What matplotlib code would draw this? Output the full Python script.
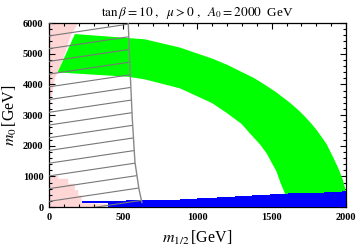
import numpy as np
import matplotlib
matplotlib.use("Agg")
import matplotlib.pyplot as plt
from matplotlib.patches import Polygon

# ----------------------------------------------------------------------
#  Data (m_1/2, m_0 in GeV)
# ----------------------------------------------------------------------

# green band: outer edge (top-left -> bottom-right) and inner edge
green_outer_x = [175, 400, 646, 882, 1100, 1200, 1300, 1380, 1450, 1530, 1623, 1680, 1720, 1760,
                 1803, 1870, 1912, 1950, 1980, 1995, 2000]
green_outer_y = [5642, 5560, 5470, 5201, 4840, 4640, 4400, 4210, 4000, 3745, 3400, 3160, 2970, 2760,
                 2511, 2050, 1641, 1250, 880, 600, 350]
green_inner_x = [58, 532, 646, 882, 1098, 1200, 1298, 1353, 1420, 1466, 1533, 1560, 1589, 1595]
green_inner_y = [4392, 4249, 4164, 3871, 3391, 3060, 2707, 2403, 2050, 1751, 1151, 780, 447, 300]

# pink region, upper left corner
pink_top_x = [0, 197, 148, 108, 74, 40, 18, 7, 0]
pink_top_y = [6000, 6000, 5608, 5011, 4575, 4196, 3597, 3163, 3000]

# pink region, lower left corner (blocky)
pink_low_x = [0, 0, 63, 63, 130, 130, 175, 175, 197, 197, 220, 220, 390, 390]
pink_low_y = [0, 1011, 1011, 923, 923, 760, 760, 554, 554, 381, 381, 130, 100, 0]

# blue strip along the bottom (steps)
blue_x = [220, 400, 520, 640, 760, 880, 1000, 1130, 1250, 1370, 1490, 1610, 1730, 1850, 1970, 2000]
blue_top = [196, 200, 215, 230, 245, 261, 290, 320, 365, 390, 420, 445, 460, 480, 530, 530]
blue_bot = [130, 0, 0, 0, 0, 0, 0, 0, 0, 0, 0, 0, 0, 0, 0, 0]

# hatched region: right boundary and hatch lines (m_0 at m_1/2 = 0 and 700)
hatch_edge_x = [534, 546, 561, 579, 606, 626]
hatch_edge_y = [6000, 4500, 2900, 1470, 590, 150]
hatch_x_ends = [0, 700]
hatch_y_left = [-230, 186, 600, 1015, 1430, 1845, 2260, 2675, 3090, 3505, 3920, 4335, 4750, 5165, 5580, 5995]
hatch_y_right = [274, 690, 1104, 1519, 1934, 2349, 2764, 3179, 3594, 4009, 4424, 4839, 5254, 5669, 6084, 6499]

# ----------------------------------------------------------------------
#  Plot
# ----------------------------------------------------------------------
plt.rcParams['font.family'] = ['Liberation Serif', 'DejaVu Serif']
plt.rcParams['mathtext.fontset'] = 'stix'

fig = plt.figure(figsize=(3.6, 2.48), dpi=100)
ax = fig.add_axes([0.136, 0.165, 0.825, 0.742])

pink = '#ffd6d6'
ax.add_patch(Polygon(list(zip(pink_top_x, pink_top_y)), closed=True, fc=pink, ec='none', zorder=1))
ax.add_patch(Polygon(list(zip(pink_low_x, pink_low_y)), closed=True, fc=pink, ec='none', zorder=1))

gx = green_outer_x + green_inner_x[::-1]
gy = green_outer_y + green_inner_y[::-1]
ax.add_patch(Polygon(list(zip(gx, gy)), closed=True, fc='#00ff00', ec='none', zorder=2))

ax.fill_between(blue_x, blue_bot, blue_top, step='post', color='#0000ff', lw=0, zorder=3)

# hatched region
hx = [0] + hatch_edge_x + [hatch_edge_x[-1], 0]
hy = [6000] + hatch_edge_y + [0, 0]
clip = Polygon(list(zip(hx, hy)), closed=True, fc='none', ec='none', transform=ax.transData)
ax.add_patch(clip)
for y0, y1 in zip(hatch_y_left, hatch_y_right):
    ln, = ax.plot(hatch_x_ends, [y0, y1], color='#777777', lw=0.8, zorder=4)
    ln.set_clip_path(clip)
ax.plot(hatch_edge_x, hatch_edge_y, color='#888888', lw=1.0, zorder=4)

ax.set_xlim(0, 2000)
ax.set_ylim(0, 6000)
ax.set_xticks([0, 500, 1000, 1500, 2000])
ax.set_yticks([0, 1000, 2000, 3000, 4000, 5000, 6000])
ax.set_xticks(np.arange(0, 2001, 100), minor=True)
ax.set_yticks(np.arange(0, 6001, 200), minor=True)
ax.tick_params(which='both', direction='in', top=True, right=True, labelsize=7.5, width=0.8, colors='black')
ax.tick_params(which='major', length=4, pad=4)
ax.tick_params(which='minor', length=2)
for lab in ax.get_xticklabels() + ax.get_yticklabels():
    lab.set_fontweight('bold')
for s in ax.spines.values():
    s.set_linewidth(0.9)

ax.set_title(r'$\tan\beta=10\ ,\ \ \mu>0\ ,\ \ A_0=2000\ $ GeV', fontsize=9.5, pad=5)
ax.set_xlabel(r'$m_{1/2}\,$[GeV]', fontsize=11.5, labelpad=5)
ax.set_ylabel(r'$m_0\,$[GeV]', fontsize=11.5, labelpad=3)

fig.savefig('out.png', dpi=100)
